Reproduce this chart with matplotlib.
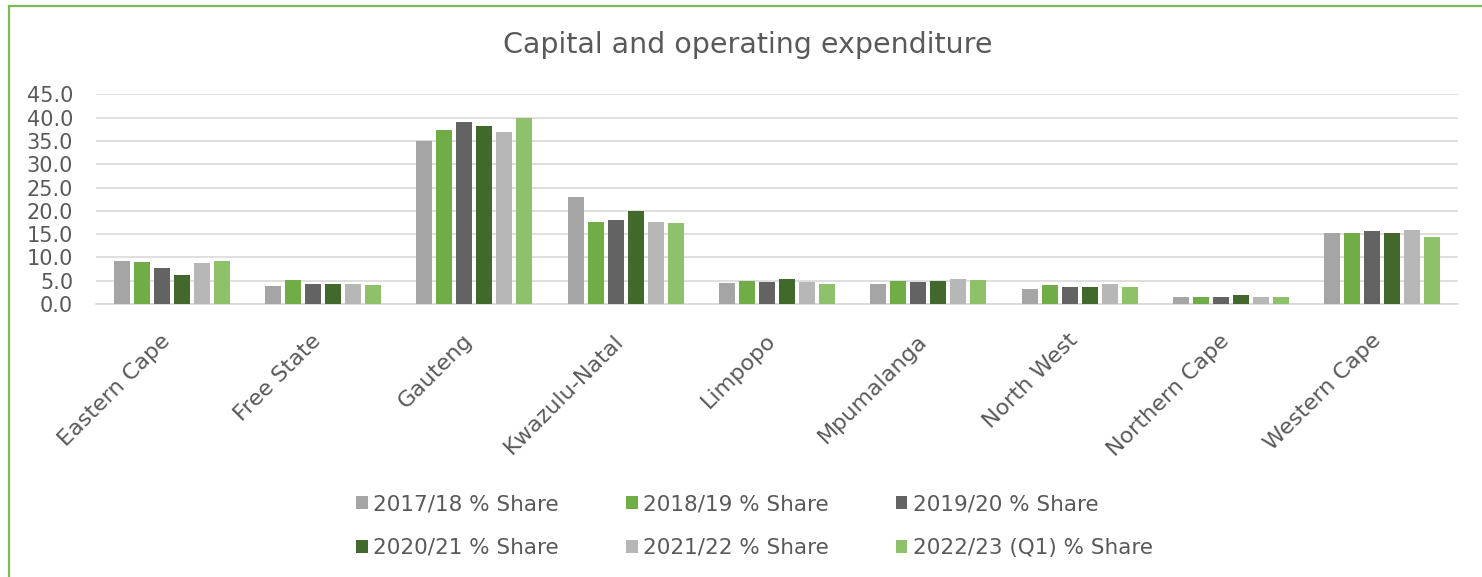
import numpy as np
import matplotlib.pyplot as plt
import matplotlib.transforms as mtransforms
from matplotlib.lines import Line2D

# データ
provinces = ['Eastern Cape', 'Free State', 'Gauteng', 'Kwazulu-Natal', 'Limpopo',
             'Mpumalanga', 'North West', 'Northern Cape', 'Western Cape']
series_names = ['2017/18 % Share', '2018/19 % Share', '2019/20 % Share',
                '2020/21 % Share', '2021/22 % Share', '2022/23 (Q1) % Share']
share_2017 = [9.2, 3.9, 35.0, 22.9, 4.6, 4.2, 3.3, 1.6, 15.2]
share_2018 = [9.1, 5.1, 37.3, 17.6, 4.9, 4.9, 4.0, 1.6, 15.3]
share_2019 = [7.7, 4.4, 39.0, 18.1, 4.7, 4.8, 3.7, 1.6, 15.7]
share_2020 = [6.2, 4.3, 38.3, 19.9, 5.3, 4.9, 3.7, 2.0, 15.2]
share_2021 = [8.8, 4.3, 36.9, 17.7, 4.8, 5.4, 4.4, 1.6, 16.0]
share_2022 = [9.2, 4.1, 40.0, 17.4, 4.2, 5.2, 3.7, 1.4, 14.4]
series = [share_2017, share_2018, share_2019, share_2020, share_2021, share_2022]
colors = ['#A5A5A5', '#70AD47', '#636363', '#43682B', '#B7B7B7', '#8FC16A']

plt.rcParams['font.family'] = ['DejaVu Sans']
text_color = '#595959'

fig = plt.figure(figsize=(14.82, 5.77), dpi=100)
ax = fig.add_axes([96 / 1482, 1 - 304 / 577, (1458 - 96) / 1482, (304 - 94.5) / 577])

x = np.arange(len(provinces))
step = 0.132
width = 0.106
handles = []
for i, (vals, c) in enumerate(zip(series, colors)):
    b = ax.bar(x + (i - 2.5) * step, vals, width, color=c, label=series_names[i], zorder=3)
    handles.append(b)

ax.set_xlim(-0.5, len(provinces) - 0.5)
ax.set_ylim(0, 45)
ax.set_yticks(np.arange(0, 46, 5))
ax.set_yticklabels([f'{v:.1f}' for v in np.arange(0, 46, 5)])
ax.yaxis.grid(True, color='#D9D9D9', linewidth=1.2, zorder=0)
ax.tick_params(axis='y', length=0, pad=16.5, labelsize=15, labelcolor=text_color)
ax.tick_params(axis='x', length=0, pad=19, labelsize=16, labelcolor=text_color)
ax.set_xticks(x)
ax.set_xticklabels(provinces, rotation=45, ha='right', rotation_mode='anchor')
shift = mtransforms.ScaledTranslation(-12 / 100, 0, fig.dpi_scale_trans)
for lab in ax.get_xticklabels():
    lab.set_transform(lab.get_transform() + shift)
for s in ['top', 'right', 'left']:
    ax.spines[s].set_visible(False)
ax.spines['bottom'].set_color('#D9D9D9')
ax.spines['bottom'].set_linewidth(1.2)

fig.text(747.5 / 1482, 1 - 45 / 577, 'Capital and operating expenditure', ha='center', va='center',
         fontsize=20.5, color=text_color)

# 凡例 (行優先の並びにする)
order = [0, 3, 1, 4, 2, 5]
fig.legend([handles[i] for i in order], [series_names[i] for i in order],
           ncol=3, loc='center', bbox_to_anchor=(754.5 / 1482, 1 - 526 / 577), frameon=False,
           fontsize=15.5, labelcolor=text_color, handlelength=0.55, handleheight=0.55,
           handletextpad=0.25, columnspacing=3.1, labelspacing=1.1)

# 枠線
border = '#7CBB55'
fig.add_artist(Line2D([9 / 1482, 9 / 1482], [0, 1 - 6 / 577], color=border, linewidth=1.6))
fig.add_artist(Line2D([9 / 1482, 1], [1 - 6 / 577, 1 - 6 / 577], color=border, linewidth=1.6))

fig.savefig('out.png', dpi=100)
